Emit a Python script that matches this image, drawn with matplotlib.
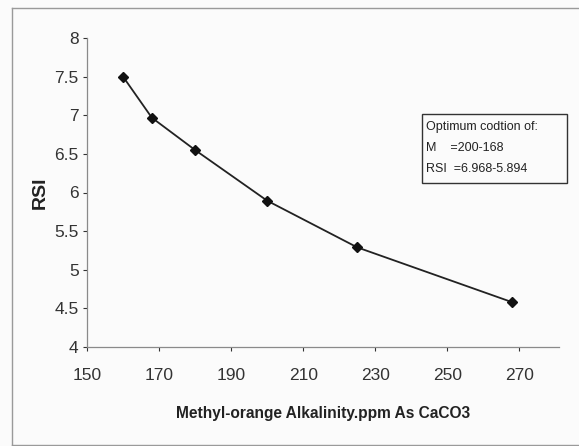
import matplotlib.pyplot as plt
from matplotlib.patches import Rectangle

plt.rcParams['font.family'] = ['Liberation Sans Narrow', 'Liberation Sans', 'DejaVu Sans']

# data
alkalinity = [160, 168, 180, 200, 225, 268]
rsi = [7.5, 6.968, 6.55, 5.894, 5.29, 4.58]
x_ticks = [150, 170, 190, 210, 230, 250, 270]
y_ticks = [4, 4.5, 5, 5.5, 6, 6.5, 7, 7.5, 8]
note_lines = ['Optimum codtion of:', 'M    =200-168', 'RSI  =6.968-5.894']

fig = plt.figure(figsize=(5.79, 4.46), dpi=100)
fig.patch.set_facecolor('#fbfbfb')

# grey chart-area frame (left, top, bottom)
fig.add_artist(plt.Line2D([12 / 579, 12 / 579], [0.002, 1 - 8 / 446],
                          color='#9a9a9a', lw=1.0, transform=fig.transFigure))
fig.add_artist(plt.Line2D([12 / 579, 1.0], [1 - 8 / 446, 1 - 8 / 446],
                          color='#9a9a9a', lw=1.0, transform=fig.transFigure))
fig.add_artist(plt.Line2D([12 / 579, 1.0], [0.003, 0.003],
                          color='#9a9a9a', lw=1.0, transform=fig.transFigure))

ax = fig.add_axes([87 / 579, 1 - 347 / 446, (559 - 87) / 579, (347 - 38) / 446])
ax.set_facecolor('none')

ax.plot(alkalinity, rsi, color='#222222', lw=1.3, marker='D', ms=5,
        mfc='#111111', mec='#111111')

ax.set_xlim(150, 281)
ax.set_ylim(4, 8)
ax.set_xticks(x_ticks)
ax.set_yticks(y_ticks)
ax.set_xticklabels([str(v) for v in x_ticks])
ax.set_yticklabels([f'{v:g}' for v in y_ticks])
ax.tick_params(axis='both', labelsize=12.5, colors='#333333', length=3, width=0.8,
               direction='out')
ax.tick_params(axis='x', pad=12)
ax.tick_params(axis='y', pad=3)
for s in ['top', 'right']:
    ax.spines[s].set_visible(False)
for s in ['left', 'bottom']:
    ax.spines[s].set_color('#8a8a8a')
    ax.spines[s].set_linewidth(0.9)

ax.set_xlabel('Methyl-orange Alkalinity.ppm As CaCO3', fontsize=11.2,
              fontweight='bold', color='#222222', labelpad=17)
ax.set_ylabel('RSI', fontsize=14, fontweight='bold', color='#222222', labelpad=4)

# annotation box
fig.add_artist(Rectangle((422 / 579, 1 - 183 / 446), 145 / 579, 69 / 446,
                         transform=fig.transFigure, fill=False,
                         edgecolor='#333333', lw=1.0))
for i, line in enumerate(note_lines):
    fig.text(426 / 579, 1 - (127 + i * 21) / 446, line, fontsize=9,
             color='#222222', va='center', ha='left')

fig.savefig('out.png', dpi=100, facecolor=fig.get_facecolor())
